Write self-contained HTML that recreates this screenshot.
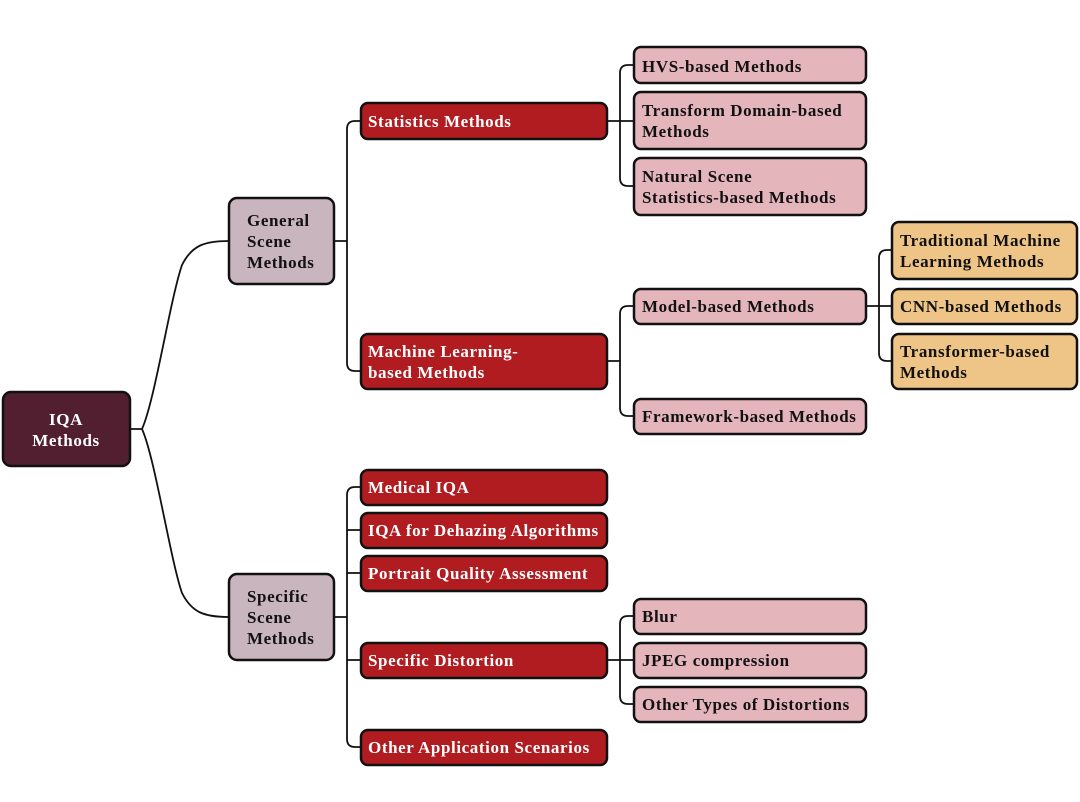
<!DOCTYPE html>
<html><head><meta charset="utf-8"><style>
html,body{margin:0;padding:0;background:#fff;}
svg{display:block;}
text{font-family:"Liberation Serif",serif;font-weight:bold;font-size:17px;letter-spacing:0.6px;}
.b{stroke:#111;stroke-width:2.5;}
.l{fill:none;stroke:#111;stroke-width:1.8;}
</style></head><body>
<svg width="1080" height="802" viewBox="0 0 1080 802">
<!-- connectors -->
<path class="l" d="M130 429 H142 C155 400,170 300,182 265 C192 245,205 241,229 241"/>
<path class="l" d="M142 429 C155 458,170 558,182 593 C192 613,205 617,229 617"/>
<path class="l" d="M334 241 H347 M361 121 H355 Q347 121 347 129 V363 Q347 371 355 371 H361"/>
<path class="l" d="M334 617 H347 M361 487 H355 Q347 487 347 495 V739 Q347 747 355 747 H361 M347 530 H361 M347 573 H361 M347 660 H361"/>
<path class="l" d="M607 121 H634 M634 65 H628 Q620 65 620 73 V178 Q620 186 628 186 H634"/>
<path class="l" d="M607 361 H620 M634 306 H628 Q620 306 620 314 V408 Q620 416 628 416 H634"/>
<path class="l" d="M866 306 H892 M892 250 H887 Q879 250 879 258 V353 Q879 361 887 361 H892"/>
<path class="l" d="M607 660 H634 M634 616 H628 Q620 616 620 624 V696 Q620 704 628 704 H634"/>
<!-- boxes -->
<g class="b">
<rect x="3" y="392" width="127" height="74" rx="8" fill="#521f30"/>
<rect x="229" y="198" width="105" height="86" rx="8" fill="#c9b5bd"/>
<rect x="229" y="574" width="105" height="86" rx="8" fill="#c9b5bd"/>
<g fill="#b01c20">
<rect x="361" y="103" width="246" height="36" rx="7"/>
<rect x="361" y="334" width="246" height="55" rx="7"/>
<rect x="361" y="470" width="246" height="35" rx="7"/>
<rect x="361" y="513" width="246" height="35" rx="7"/>
<rect x="361" y="556" width="246" height="35" rx="7"/>
<rect x="361" y="643" width="246" height="35" rx="7"/>
<rect x="361" y="730" width="246" height="35" rx="7"/>
</g>
<g fill="#e5b5bc">
<rect x="634" y="47" width="232" height="36" rx="7"/>
<rect x="634" y="92" width="232" height="57" rx="7"/>
<rect x="634" y="158" width="232" height="57" rx="7"/>
<rect x="634" y="289" width="232" height="35" rx="7"/>
<rect x="634" y="399" width="232" height="35" rx="7"/>
<rect x="634" y="599" width="232" height="35" rx="7"/>
<rect x="634" y="643" width="232" height="35" rx="7"/>
<rect x="634" y="687" width="232" height="35" rx="7"/>
</g>
<g fill="#eec487">
<rect x="892" y="222" width="185" height="57" rx="7"/>
<rect x="892" y="289" width="185" height="35" rx="7"/>
<rect x="892" y="334" width="185" height="55" rx="7"/>
</g>
</g>
<!-- text -->
<g fill="#fff">
<text x="66" y="425" text-anchor="middle">IQA</text>
<text x="66" y="446" text-anchor="middle">Methods</text>
<text x="368" y="127">Statistics Methods</text>
<text x="368" y="357">Machine Learning-</text>
<text x="368" y="378">based Methods</text>
<text x="368" y="493">Medical IQA</text>
<text x="368" y="536">IQA for Dehazing Algorithms</text>
<text x="368" y="579">Portrait Quality Assessment</text>
<text x="368" y="666">Specific Distortion</text>
<text x="368" y="753">Other Application Scenarios</text>
</g>
<g fill="#111">
<text x="247" y="226">General</text>
<text x="247" y="247">Scene</text>
<text x="247" y="268">Methods</text>
<text x="247" y="602">Specific</text>
<text x="247" y="623">Scene</text>
<text x="247" y="644">Methods</text>
<text x="642" y="72">HVS-based Methods</text>
<text x="642" y="116">Transform Domain-based</text>
<text x="642" y="137">Methods</text>
<text x="642" y="182">Natural Scene</text>
<text x="642" y="203">Statistics-based Methods</text>
<text x="642" y="312">Model-based Methods</text>
<text x="642" y="422">Framework-based Methods</text>
<text x="642" y="622">Blur</text>
<text x="642" y="666">JPEG compression</text>
<text x="642" y="710">Other Types of Distortions</text>
<text x="900" y="246">Traditional Machine</text>
<text x="900" y="267">Learning  Methods</text>
<text x="900" y="312" letter-spacing="0.3">CNN-based  Methods</text>
<text x="900" y="357">Transformer-based</text>
<text x="900" y="378">Methods</text>
</g>
</svg>
</body></html>
